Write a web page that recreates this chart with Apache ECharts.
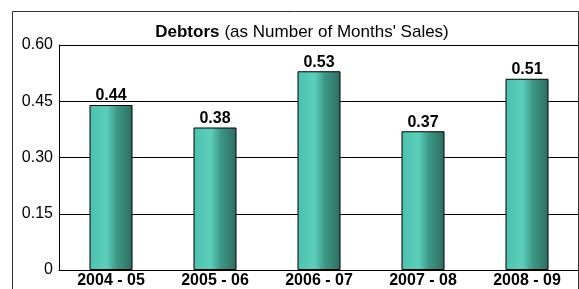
<!DOCTYPE html>
<html>
<head>
<meta charset="utf-8">
<script src="https://cdn.jsdelivr.net/npm/echarts@6/dist/echarts.min.js"></script>
<style>
  html, body { margin: 0; padding: 0; background: #fff; }
  #chart { width: 579px; height: 289px; }
</style>
</head>
<body>
<div id="chart"></div>
<script>
const years = ["2004 - 05", "2005 - 06", "2006 - 07", "2007 - 08", "2008 - 09"];
const debtors = [0.44, 0.38, 0.53, 0.37, 0.51];
const yTicks = [0, 0.15, 0.30, 0.45, 0.60];

const chart = echarts.init(document.getElementById("chart"), null, { renderer: "canvas" });

const barFill = new echarts.graphic.LinearGradient(0, 0, 1, 0, [
  { offset: 0, color: "#4cc2ae" },
  { offset: 0.4, color: "#5bcfbc" },
  { offset: 0.65, color: "#3c9584" },
  { offset: 1, color: "#2e6e61" },
]);

chart.setOption({
  animation: false,
  textStyle: { fontFamily: "Liberation Sans, Arial, sans-serif" },
  title: {
    text: "{b|Debtors} {n|(as Number of Months' Sales)}",
    left: 297,
    textAlign: "center",
    top: 18,
    textStyle: {
      rich: {
        b: { fontSize: 17, fontWeight: "bold", color: "#000", fontFamily: "Liberation Sans" },
        n: { fontSize: 17, fontWeight: "normal", color: "#000", fontFamily: "Liberation Sans" },
      },
    },
  },
  graphic: [{
    type: "rect",
    shape: { x: 12.5, y: 11.5, width: 566, height: 300 },
    style: { fill: "none", stroke: "#333", lineWidth: 1 },
    silent: true,
  }],
  grid: { left: 59, right: 0, top: 45, bottom: 17 },
  xAxis: {
    type: "category",
    data: years,
    axisTick: { show: false },
    axisLine: { lineStyle: { color: "#000", width: 1 } },
    axisLabel: {
      color: "#000",
      fontSize: 16,
      fontWeight: "bold",
      margin: 3,
      fontFamily: "Liberation Sans",
    },
  },
  yAxis: {
    type: "value",
    min: yTicks[0],
    max: yTicks[yTicks.length - 1],
    interval: 0.15,
    axisLine: { show: true, lineStyle: { color: "#000", width: 1 } },
    axisTick: { show: false },
    splitLine: { lineStyle: { color: "#000", width: 1 } },
    axisLabel: {
      color: "#000",
      fontSize: 16,
      margin: 6,
      fontFamily: "Liberation Sans",
      formatter: (v) => (v === 0 ? "0" : v.toFixed(2)),
    },
  },
  series: [{
    type: "bar",
    data: debtors,
    barWidth: 43,
    itemStyle: { color: barFill, borderColor: "#000", borderWidth: 1 },
    label: {
      show: true,
      position: "top",
      distance: 1,
      color: "#000",
      fontSize: 16,
      fontWeight: "bold",
      fontFamily: "Liberation Sans",
      formatter: (p) => p.value.toFixed(2),
    },
  }],
});
</script>
</body>
</html>
